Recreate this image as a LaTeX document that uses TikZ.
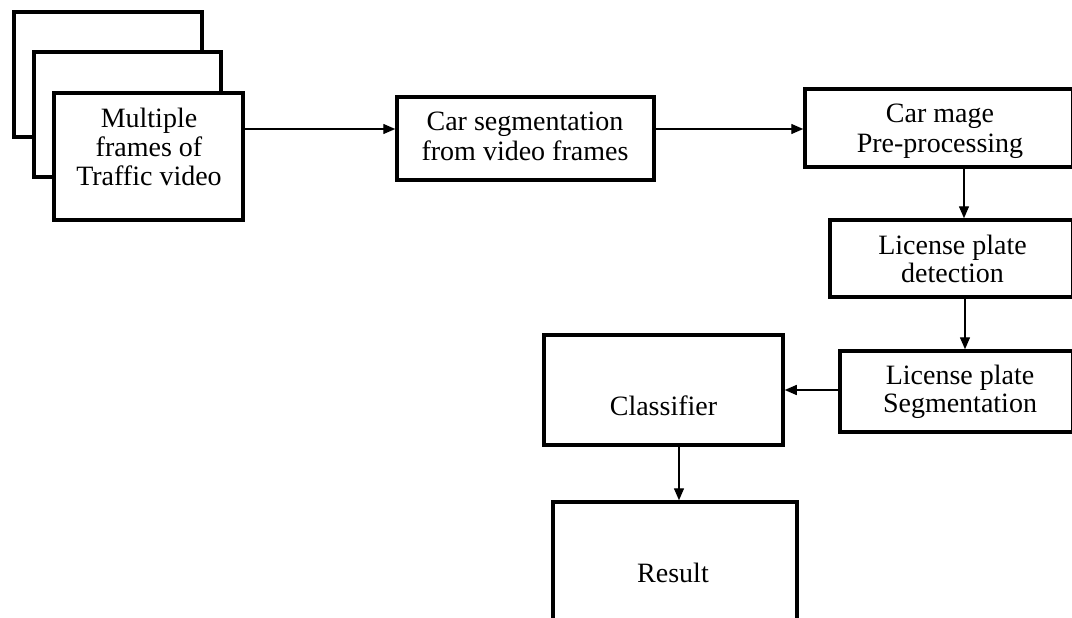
\documentclass[tikz,border=0pt]{standalone}
\usepackage{fontspec}
\setmainfont{Liberation Serif}
\usetikzlibrary{arrows.meta}
\tikzset{
  box/.style={draw=black, line width=3.5pt, fill=white, inner sep=0pt, rectangle},
  txt/.style={anchor=base, inner sep=0pt, font=\fontsize{28}{28.5}\selectfont},
  arr/.style={draw=black, line width=1.4pt, -{Triangle[length=12pt,width=10pt]}}
}
\begin{document}
\begin{tikzpicture}[x=1pt,y=-1pt]
\useasboundingbox (0,0) rectangle (1072,618);
\clip (0,0) rectangle (1072,618);
\fill[white] (0,0) rectangle (1072,618);
% stacked frames
\node[box, minimum width=188pt, minimum height=125pt] (frameA) at (108,74.5) {};
\node[box, minimum width=187pt, minimum height=125pt] (frameB) at (127.5,114.5) {};
\node[box, minimum width=189pt, minimum height=127pt] (front) at (148.5,156.5) {};
\node[txt] (tfa) at (149,128) {Multiple};
\node[txt] (tfb) at (149,157) {frames of};
\node[txt] (tfc) at (149,185) {Traffic video};
% car segmentation
\node[box, minimum width=257pt, minimum height=83pt] (carseg) at (525.5,138.5) {};
\node[txt] (tsa) at (525,130) {Car segmentation};
\node[txt] (tsb) at (525,160) {from video frames};
% car image pre-processing
\node[box, minimum width=268pt, minimum height=78pt] (carmage) at (939,128) {};
\node[txt] (tma) at (940,123) {Car mage};
\node[txt] (tmb) at (940,152) {Pre-processing};
% license plate detection
\node[box, minimum width=243pt, minimum height=77pt] (detect) at (951.5,258.5) {};
\node[txt] (tda) at (952.5,254) {License plate};
\node[txt] (tdb) at (952.5,282) {detection};
% license plate segmentation
\node[box, minimum width=233pt, minimum height=81pt] (lpseg) at (956.5,391.5) {};
\node[txt] (tla) at (960,384) {License plate};
\node[txt] (tlb) at (960,412) {Segmentation};
% classifier
\node[box, minimum width=239pt, minimum height=110pt] (classif) at (663.5,390) {};
\node[txt] (tc) at (663.5,415) {Classifier};
% result
\node[box, minimum width=244pt, minimum height=138pt] (result) at (675,571) {};
\node[txt] (tr) at (673,582) {Result};
% connectors
\draw[arr] (front.east |- 0,129) -- (carseg.west |- 0,129);
\draw[arr] (carseg.east |- 0,129) -- (carmage.west |- 0,129);
\draw[arr] (carmage.south -| 964,0) -- (detect.north -| 964,0);
\draw[arr] (detect.south -| 965,0) -- (lpseg.north -| 965,0);
\draw[arr] (lpseg.west |- 0,390) -- (classif.east |- 0,390);
\draw[arr] (classif.south -| 679,0) -- (result.north -| 679,0);
\end{tikzpicture}
\end{document}
